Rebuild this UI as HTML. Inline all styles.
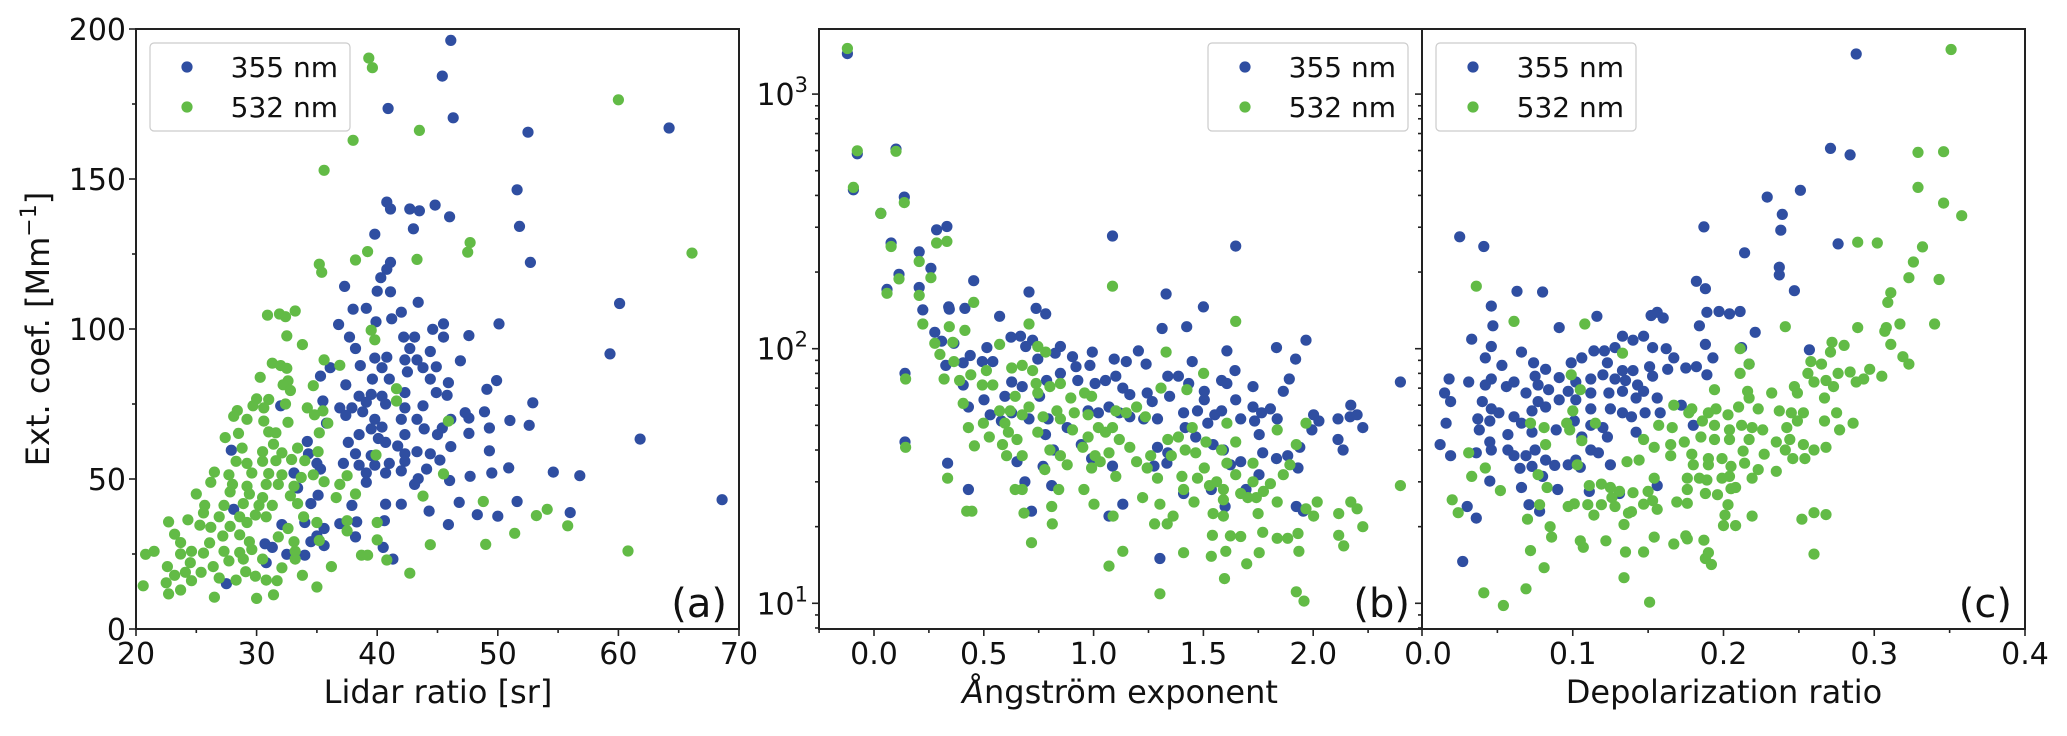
<!DOCTYPE html>
<html><head><meta charset="utf-8"><style>
html,body{margin:0;padding:0;background:#fff;}
svg{display:block;font-family:"DejaVu Sans","Liberation Sans",sans-serif;}
</style></head><body>
<svg id="chart" width="2067" height="736" viewBox="0 0 2067 736" xmlns="http://www.w3.org/2000/svg">
<defs>
<clipPath id="clipA"><rect x="136" y="29" width="603" height="600"/></clipPath>
<clipPath id="clipB"><rect x="819" y="29" width="603" height="600"/></clipPath>
<clipPath id="clipC"><rect x="1422" y="29" width="603" height="600"/></clipPath>
</defs>
<g id="axes"></g>
<g id="marksA" clip-path="url(#clipA)"></g>
<g id="marksB" clip-path="url(#clipB)"></g>
<g id="marksC" clip-path="url(#clipC)"></g>
<g id="frames"></g>
<g id="labels"></g>
</svg>
<script>
// ---- Tick labels ----
const aXTicks = [20, 30, 40, 50, 60, 70];
const aYTicks = [0, 50, 100, 150, 200];
const bXTicks = ["0.0", "0.5", "1.0", "1.5", "2.0"];
const cXTicks = ["0.0", "0.1", "0.2", "0.3", "0.4"];
const logTicks = [1, 2, 3];
const seriesNames = ["355 nm", "532 nm"];

// ---- Panel (a): Lidar ratio vs Ext. coef ----
const aBlue = [[46.1,196.2],[45.4,184.3],[40.9,173.5],[46.3,170.4],[52.5,165.6],[64.2,167],[51.6,146.4],[51.8,134.2],[52.7,122.2],[40.8,142.3],[41.1,140],[42.7,140],[43.5,139.4],[44.8,141.3],[46.0,137.4],[43.0,133.4],[39.8,131.6],[41.1,122.2],[40.8,119.9],[40.3,117.1],[37.3,114.2],[40.0,112.6],[41.1,112.4],[43.4,108.9],[60.1,108.5],[38.0,106.6],[39.1,106.9],[42.0,105.6],[41.2,103.4],[36.8,101.5],[39.9,102.4],[45.5,101.7],[50.1,101.7],[37.7,97.3],[42.2,97.3],[43.1,97.3],[44.6,99.9],[45.5,97.3],[47.6,97.8],[38.2,93.5],[42.7,93.5],[44.4,92.5],[59.3,91.7],[39.8,90.3],[40.8,90.6],[42.3,89.7],[43.3,89.7],[46.9,89.4],[36.1,87.1],[38.6,87.8],[40.4,87.1],[42.5,85.7],[43.8,87.1],[44.9,87.4],[35.3,84.3],[39.6,83.3],[41.0,83.3],[44.4,83.3],[45.9,82.1],[49.9,82.8],[37.4,81.4],[49.1,79.9],[38.5,77.6],[39.5,78.2],[40.4,77.6],[42.3,78.8],[44.9,78.8],[45.8,77.9],[35.5,76.0],[36.9,73.7],[37.9,73.7],[39.1,75.6],[40.7,75.0],[42.3,73.7],[43.8,74.4],[52.9,75.4],[32.0,74.4],[37.4,71.2],[38.8,72.4],[39.8,69.9],[42.0,69.9],[43.3,69.9],[46.1,69.9],[47.3,72.1],[48.9,72.4],[51.0,69.5],[52.6,67.9],[35.8,68.6],[39.5,66.7],[40.4,67.3],[43.9,66.7],[45.4,67],[47.6,70.3],[49.3,67],[38.5,64.8],[40.1,63.5],[42.3,64.8],[45.0,64.8],[47.6,65.2],[61.8,63.3],[37.6,62.2],[40.7,62.2],[41.7,61.0],[46.1,60.8],[34.2,62.5],[27.9,59.6],[49.3,59.4],[38.2,58.4],[39.5,57.8],[42.3,58.4],[43.3,59.1],[44.4,58.4],[34.3,58.4],[37.2,55.2],[38.5,54.6],[39.8,54.6],[41.0,55.2],[42.3,55.9],[45.2,56.3],[35.0,55.2],[50.9,53.7],[39.1,52.0],[40.7,52.0],[42.0,52.7],[44.1,53.3],[35.3,53.3],[33.1,52.0],[54.6,52.3],[56.8,51.1],[49.5,52.0],[47.7,50.9],[39.1,48.9],[43.4,50.1],[46.0,49.5],[43.1,48.2],[33.4,47.0],[35.1,44.6],[34.5,41.8],[68.6,43.1],[37.9,41.2],[40.7,41.6],[42.0,41.6],[46.8,42.2],[51.6,42.5],[28.1,39.9],[44.3,39.3],[48.3,38.1],[50.0,37.6],[56.0,38.8],[32.1,34.8],[34.0,35.5],[36.9,35.1],[38.3,35.7],[40.6,36.1],[45.9,34.8],[35.6,33.5],[35.0,31.0],[38.2,30.7],[30.7,28.4],[31.3,27.2],[34.5,29.1],[35.6,27.8],[40.5,27.2],[32.5,24.9],[34.0,24.6],[41.3,23.3],[30.8,22.1],[27.5,15.1]];
const aGreen = [[39.3,190.3],[39.6,187.1],[60.0,176.4],[43.5,166.2],[38.0,162.9],[35.6,152.9],[47.7,128.8],[47.5,125.6],[66.1,125.3],[39.2,125.8],[38.2,123.0],[43.3,123.2],[35.2,121.6],[35.4,118.9],[30.9,104.6],[31.9,105.0],[32.4,104.1],[33.2,106.0],[32.5,97.7],[33.8,94.8],[39.5,99.6],[39.8,96.4],[35.6,89.7],[36.9,87.9],[31.3,88.6],[32.0,87.8],[32.5,86.9],[30.3,83.9],[32.6,82.7],[32.2,81.4],[34.7,81.1],[41.6,80.1],[41.6,76.0],[32.8,79.5],[30.0,76.7],[31.0,76.5],[29.7,74.4],[30.6,73.7],[32.4,75.0],[34.2,73.7],[35.5,72.7],[28.4,72.8],[28.1,70.9],[34.8,71.4],[29.2,69.9],[30.6,69.3],[32.6,68.9],[35.9,68.6],[45.9,69.3],[31.0,65.7],[31.6,65.4],[28.5,65.2],[35.2,65.4],[27.4,63.8],[31.4,61.6],[28.8,60.3],[30.5,59.1],[32.1,58.7],[33.4,60.3],[35.1,59.1],[39.9,58.0],[28.3,55.9],[29.2,55.2],[30.5,55.9],[31.6,56.1],[32.9,56.5],[34.0,56.1],[26.5,52.3],[27.7,51.4],[29.6,52.0],[31.0,51.8],[32.1,51.4],[33.7,50.5],[34.7,51.4],[37.5,51.1],[45.5,51.7],[26.2,48.9],[28.0,48.2],[29.2,47.6],[30.8,48.2],[31.8,48.2],[33.1,47.6],[35.6,49.1],[36.9,48.2],[25.0,45.0],[27.8,45.7],[29.4,45.0],[30.5,43.8],[32.8,44.4],[36.6,43.8],[38.2,45.0],[43.8,44.3],[25.7,41.2],[27.3,41.2],[28.9,41.8],[30.2,41.2],[31.3,41.2],[33.4,41.8],[48.8,42.5],[25.6,38.7],[26.9,37.4],[28.6,37.4],[29.9,38.0],[30.8,37.4],[33.9,37.4],[54.1,39.9],[53.2,37.8],[22.7,35.7],[24.3,36.4],[25.3,34.6],[26.2,33.9],[27.8,34.2],[29.2,35.5],[32.6,33.5],[35.0,35.5],[37.5,36.1],[40.0,35.5],[55.8,34.4],[23.2,31.6],[27.2,31.0],[28.6,31.4],[31.8,30.7],[37.5,32.7],[51.4,31.9],[23.7,28.8],[26.1,28.7],[29.4,29.1],[33.1,29.1],[35.2,29.5],[40.0,29.7],[44.4,28.1],[49.0,28.2],[20.8,24.9],[21.5,25.9],[23.7,25.0],[24.6,25.9],[25.6,25.3],[27.3,25.9],[28.6,25.5],[29.6,26.5],[33.2,25.9],[38.7,24.6],[39.2,24.6],[60.8,26.0],[24.5,22.1],[27.7,22.7],[28.9,23.3],[30.5,23.3],[33.2,23.3],[40.8,23.0],[22.6,20.8],[24.1,18.9],[25.4,18.9],[26.4,20.8],[29.1,19.1],[32.1,20.4],[36.2,20.8],[42.7,18.6],[23.2,17.9],[24.6,16.1],[26.9,17.0],[28.3,16.3],[30.8,16.3],[31.7,16.1],[33.8,17.9],[20.6,14.4],[22.5,15.4],[29.9,17.6],[23.7,13.0],[22.7,11.7],[26.5,10.6],[30.0,10.2],[31.4,11.4],[35.0,14.0]];

// ---- Panel (b): Angstrom exponent vs Ext. coef (log) ----
const bBlue = [[-0.121,1442],[-0.094,421],[-0.076,583],[0.031,340],[0.100,608],[0.138,394],[0.285,293],[0.332,302],[0.078,260],[0.206,240],[0.259,207],[0.114,196],[0.059,171],[0.206,174],[0.454,185],[0.706,167],[1.086,277],[1.647,253],[1.330,164],[1.500,146],[0.222,142],[0.340,146],[0.414,144],[0.343,143],[0.277,116],[0.738,144],[0.782,137],[0.572,134],[1.312,120],[1.424,122],[0.308,107],[0.364,105],[0.438,94],[0.327,86],[0.406,88],[0.493,89],[0.541,89],[0.514,101],[0.624,111],[0.667,112],[0.722,108],[0.691,102],[0.849,102],[0.746,91],[0.825,96],[0.904,93],[0.994,97],[0.920,85],[0.983,86],[1.094,91],[1.149,89],[1.204,98],[1.239,87],[1.449,89],[1.607,98],[1.644,82],[1.833,101],[1.967,108],[1.920,91],[0.141,80],[0.406,72],[0.501,63],[0.430,59],[0.596,65],[0.627,74],[0.675,71],[0.754,65],[0.786,75],[0.849,80],[0.928,75],[1.007,73],[1.054,75],[1.101,78],[1.133,70],[1.165,66],[1.244,67],[1.267,62],[1.338,78],[1.386,78],[1.346,65],[1.433,73],[1.504,68],[1.583,75],[1.607,73],[1.726,71],[1.891,76],[1.864,68],[2.397,74],[1.504,63],[1.647,63],[1.410,56],[1.473,57],[1.520,51],[1.552,55],[1.583,57],[1.670,53],[1.733,52],[1.726,59],[1.765,56],[1.805,58],[1.836,53],[2.002,55],[2.026,52],[1.994,48],[2.113,53],[2.171,60],[2.168,54],[2.200,55],[2.226,49],[1.754,46],[2.113,44],[2.136,40],[0.529,55],[0.580,52],[0.627,56],[0.706,53],[0.793,53],[0.880,49],[0.975,57],[1.022,56],[1.070,59],[1.117,56],[1.165,54],[1.228,53],[1.291,53],[1.417,49],[1.465,45],[1.544,42],[1.591,40],[1.623,35],[1.670,36],[1.770,39],[1.833,37],[1.884,38],[1.931,34],[1.939,41],[1.753,32],[1.694,28],[1.599,24],[1.410,27],[1.536,28],[1.291,41],[1.338,39],[1.334,35.5],[1.275,34.6],[1.086,34.6],[1.133,24.5],[1.070,22],[0.991,37],[0.944,42],[0.817,40],[0.781,46],[0.770,34.5],[0.809,29],[0.687,30],[0.651,36],[0.717,23],[0.335,35.5],[0.430,28],[0.141,43],[1.923,24],[1.955,23],[1.302,15]];
const bGreen = [[-0.121,1510],[-0.094,430],[-0.076,599],[0.031,340],[0.100,596],[0.138,375],[0.078,252],[0.285,260],[0.332,264],[0.206,220],[0.259,190],[0.114,188],[0.059,165],[0.206,162],[0.454,152],[0.222,125],[0.343,122],[0.414,118],[0.706,125],[1.086,176],[1.647,128],[1.330,97],[1.501,80],[0.277,105],[0.300,95],[0.359,106],[0.364,89],[0.319,76],[0.390,75],[0.441,79],[0.493,72],[0.541,72],[0.512,82],[0.572,104],[0.627,84],[0.675,86],[0.746,102],[0.782,97],[0.722,82],[0.738,73],[0.801,71],[0.849,73],[0.406,61],[0.430,49],[0.457,41.5],[0.498,51],[0.525,45],[0.572,57],[0.596,51],[0.620,57],[0.643,65],[0.675,55],[0.706,59],[0.746,67],[0.770,54],[0.833,57],[0.849,53],[0.896,64],[0.912,56],[0.959,67],[0.991,65],[0.975,55],[1.022,49],[1.054,47],[1.086,49],[1.101,57],[1.149,56],[1.196,59],[1.236,54],[1.307,70],[1.425,69],[0.585,42],[0.612,47],[0.651,44],[0.604,38],[0.675,38],[0.746,47],[0.801,40],[0.849,38],[0.880,35],[0.904,48],[0.951,41],[0.975,45],[1.007,38],[1.030,36],[1.070,39],[1.117,44],[1.165,41],[1.196,36],[1.244,34],[1.260,38],[1.338,44],[1.386,45],[1.354,38],[1.417,40],[1.449,49],[1.465,39],[1.512,43],[1.504,34],[1.583,40],[1.607,51],[1.647,43],[1.607,35.5],[1.726,35.5],[1.836,48],[1.967,51],[1.923,42],[1.894,35],[1.647,32],[1.864,32],[0.778,33.5],[0.991,34],[1.101,31.5],[1.291,31],[1.402,31.5],[1.410,28],[1.473,31],[1.528,29],[1.560,30],[1.591,28],[1.670,27],[1.726,30],[1.702,26],[1.741,26],[1.773,27.5],[1.805,29.5],[2.397,29],[0.335,31],[0.643,28],[0.675,28],[0.841,28],[0.956,28],[1.223,26],[1.457,25],[1.591,25.5],[1.836,25],[1.967,23.5],[2.018,25],[2.002,22],[2.116,22.5],[2.171,25],[2.200,23.5],[2.226,20],[1.749,22.5],[1.544,22.5],[1.591,22],[1.362,22],[1.302,24.5],[1.278,20.5],[1.335,20.5],[1.089,22],[1.002,24.5],[0.809,24],[0.812,20.5],[0.683,22.6],[0.422,23],[0.446,23],[0.717,17.3],[1.133,16],[1.070,14],[1.410,15.8],[1.536,15.3],[1.602,16],[1.623,18.4],[1.541,18.5],[1.670,18.3],[1.697,14.3],[1.754,15.8],[1.770,19],[1.836,18],[1.884,18],[1.931,18.8],[1.935,16],[2.116,18.5],[2.139,16.8],[1.302,10.9],[1.596,12.5],[1.923,11.1],[1.958,10.2],[0.144,76],[0.144,41]];

// ---- Panel (c): Depolarization ratio vs Ext. coef (log) ----
const cBlue = [[0.288,1437],[0.271,612],[0.284,577],[0.251,419],[0.229,394],[0.239,337],[0.238,292],[0.187,301],[0.276,258],[0.214,238],[0.237,209],[0.237,195],[0.247,169],[0.182,184],[0.188,172],[0.025,275],[0.041,252],[0.063,168],[0.080,167],[0.046,147],[0.047,123],[0.033,109],[0.046,102],[0.042,92],[0.053,86],[0.066,97],[0.074,88],[0.091,121],[0.116,134],[0.156,139],[0.152,135],[0.160,132],[0.189,139],[0.197,140],[0.204,137],[0.211,140],[0.184,123],[0.221,116],[0.188,104],[0.212,101],[0.193,92],[0.257,99],[0.147,112],[0.133,112],[0.140,108],[0.153,101],[0.162,100],[0.167,92],[0.114,98],[0.121,98],[0.128,101],[0.106,92],[0.099,88],[0.123,88],[0.133,82],[0.140,82],[0.151,85],[0.153,78],[0.163,83],[0.175,84],[0.182,85],[0.189,79],[0.217,87],[0.082,83],[0.091,77],[0.075,78],[0.077,72],[0.112,76],[0.120,79],[0.128,76],[0.135,75],[0.143,72],[0.102,74],[0.097,68],[0.084,69],[0.046,76],[0.042,72],[0.031,74],[0.018,76],[0.015,67],[0.019,62],[0.056,71],[0.061,74],[0.069,67],[0.112,67],[0.124,67],[0.133,68],[0.142,64],[0.147,68],[0.156,64],[0.040,62],[0.077,62],[0.091,63],[0.102,63],[0.046,58],[0.051,56],[0.061,54],[0.073,57],[0.082,59],[0.112,58],[0.125,58],[0.133,56],[0.139,54],[0.148,56],[0.158,56],[0.172,60],[0.037,53],[0.045,52],[0.066,51],[0.101,52],[0.016,51],[0.038,48],[0.057,46],[0.073,47],[0.089,48],[0.112,50],[0.120,49],[0.142,47],[0.180,50],[0.123,45],[0.045,43],[0.106,45],[0.012,42],[0.057,40],[0.046,40],[0.075,40],[0.112,40],[0.117,39],[0.019,38],[0.036,39],[0.061,38],[0.069,38],[0.082,36.5],[0.088,34.8],[0.102,36.5],[0.097,35],[0.105,34.2],[0.125,35],[0.065,33.9],[0.073,34.5],[0.080,31.5],[0.045,30.2],[0.066,28.5],[0.090,28],[0.156,29],[0.111,27.5],[0.131,27],[0.071,24.4],[0.078,23],[0.030,24],[0.036,21.6],[0.027,14.6]];
const cGreen = [[0.351,1497],[0.329,590],[0.346,594],[0.329,430],[0.346,373],[0.358,333],[0.289,262],[0.302,260],[0.332,251],[0.326,219],[0.323,190],[0.343,187],[0.311,166],[0.309,152],[0.289,121],[0.308,121],[0.317,125],[0.340,125],[0.307,117],[0.311,104],[0.319,93],[0.323,87],[0.272,106],[0.280,103],[0.271,97],[0.258,89],[0.265,87],[0.256,80],[0.276,80],[0.284,81],[0.297,83],[0.305,78],[0.288,74],[0.293,76],[0.241,122],[0.211,100],[0.211,80],[0.217,87],[0.036,176],[0.061,128],[0.108,125],[0.133,96],[0.099,79],[0.105,69],[0.100,57],[0.194,69],[0.216,68],[0.232,67],[0.247,71],[0.260,74],[0.268,75],[0.273,71],[0.249,67],[0.267,64],[0.217,64],[0.223,58],[0.237,57],[0.245,56],[0.253,56],[0.275,56],[0.167,60],[0.177,56],[0.179,58],[0.190,56],[0.195,58],[0.203,55],[0.210,59],[0.249,52],[0.267,52],[0.286,51],[0.072,51],[0.081,49],[0.096,51],[0.098,48],[0.115,51],[0.157,50],[0.166,49],[0.186,52],[0.194,50],[0.204,48],[0.212,50],[0.219,49],[0.226,48],[0.242,49],[0.277,48],[0.106,43.5],[0.147,44],[0.165,42],[0.154,41],[0.174,43],[0.185,45],[0.194,44],[0.204,44],[0.217,44],[0.235,43],[0.244,44],[0.253,42],[0.260,40],[0.268,41],[0.082,42],[0.031,39],[0.165,38],[0.179,38.5],[0.190,37],[0.199,37],[0.213,39.6],[0.227,38.5],[0.241,40],[0.246,37],[0.254,37],[0.136,36],[0.144,36.5],[0.180,35],[0.190,35],[0.205,34.5],[0.214,35.5],[0.223,33.5],[0.042,34],[0.103,35],[0.077,32],[0.033,31.5],[0.154,31],[0.176,31],[0.184,31],[0.189,30.5],[0.199,31],[0.204,31.5],[0.219,31],[0.235,33],[0.083,28.5],[0.052,27.7],[0.111,29],[0.119,29.4],[0.125,28.5],[0.131,27.5],[0.140,27.2],[0.150,27.5],[0.176,28],[0.188,27],[0.196,26.7],[0.205,28.2],[0.208,28.5],[0.020,25.5],[0.126,26],[0.153,25.3],[0.169,25],[0.176,24.7],[0.078,24.4],[0.097,24],[0.101,24.6],[0.110,24.4],[0.128,24],[0.147,24.5],[0.156,23.4],[0.119,24.4],[0.203,24.4],[0.024,22.7],[0.070,21.4],[0.114,22.2],[0.137,22.6],[0.139,22.9],[0.201,22.2],[0.219,22],[0.252,21.4],[0.260,22.7],[0.268,22.3],[0.134,20.4],[0.200,20.2],[0.208,20.2],[0.085,20],[0.086,18.2],[0.154,18.2],[0.175,18.4],[0.176,17.9],[0.187,17.7],[0.105,17.6],[0.107,16.6],[0.122,17.6],[0.167,17.1],[0.072,16.1],[0.135,15.9],[0.147,15.9],[0.190,15.8],[0.188,15],[0.192,14.2],[0.260,15.6],[0.081,13.8],[0.134,12.6],[0.069,11.4],[0.041,11],[0.054,9.8],[0.151,10.1]];

const NS = "http://www.w3.org/2000/svg";
const BLUE = "#2f4ea1", GREEN = "#62bb46", R = 5.6;
const TOP = 29, BOT = 629;
function xA(v){ return 136 + (v - 20) * 12.06; }
function yA(v){ return BOT - v * 3; }
function xB(v){ return 874 + v * 219.6; }
function xC(v){ return 1422 + v * 1507.5; }
function yL(v){ return 348.7 - (Math.log10(v) - 2) * 254.6; }

function mk(tag, attrs, parent){
  const e = document.createElementNS(NS, tag);
  for (const k in attrs) e.setAttribute(k, attrs[k]);
  parent.appendChild(e);
  return e;
}
function pts(data, fx, fy, color, parent, nm){
  data.forEach(function(d){
    const c = mk("circle", {cx: fx(d[0]).toFixed(1), cy: fy(d[1]).toFixed(1), r: R, fill: color}, parent);
    
    
  });
}
const gA = document.getElementById("marksA"), gB = document.getElementById("marksB"), gC = document.getElementById("marksC");
pts(aBlue, xA, yA, BLUE, gA, 'point-a-355nm');
pts(aGreen, xA, yA, GREEN, gA, 'point-a-532nm');
pts(bBlue, xB, yL, BLUE, gB, 'point-b-355nm');
pts(bGreen, xB, yL, GREEN, gB, 'point-b-532nm');
pts(cBlue, xC, yL, BLUE, gC, 'point-c-355nm');
pts(cGreen, xC, yL, GREEN, gC, 'point-c-532nm');

const fr = document.getElementById("frames"), lb = document.getElementById("labels");
const frameStyle = {fill: "none", stroke: "#222", "stroke-width": 2};
[[136,'frame-a'],[819,'frame-b'],[1422,'frame-c']].forEach(function(f){
  const r = mk("rect", Object.assign({x: f[0], y: TOP, width: 603, height: 600}, frameStyle), fr);
  
  
});
function line(x1,y1,x2,y2){ mk("line",{x1:x1,y1:y1,x2:x2,y2:y2,stroke:"#222","stroke-width":1.6},fr); }
function txt(x,y,s,anchor,size,nm,parent){
  const t = mk("text",{x:x,y:y,"text-anchor":anchor,"font-size":size,fill:"#111"},parent||lb);
  t.textContent = s;
  
  
  return t;
}
// Panel a ticks
aXTicks.forEach(function(v){ line(xA(v),BOT,xA(v),BOT+7); txt(xA(v),664,String(v),"middle",30,'x-tick-label-a'); });
[25,35,45,55,65].forEach(function(v){ line(xA(v),BOT,xA(v),BOT+4); });
aYTicks.forEach(function(v){ line(129,yA(v),136,yA(v)); txt(126,yA(v)+11,String(v),"end",30,'y-tick-label-a'); });
[25,75,125,175].forEach(function(v){ line(132,yA(v),136,yA(v)); });
// Panel b ticks
bXTicks.forEach(function(s){ const v=parseFloat(s); line(xB(v),BOT,xB(v),BOT+7); txt(xB(v),664,s,"middle",30,'x-tick-label-b'); });
[-0.25,0.25,0.75,1.25,1.75,2.25].forEach(function(v){ line(xB(v),BOT,xB(v),BOT+4); });
logTicks.forEach(function(p){
  const y = yL(Math.pow(10,p));
  line(812,y,819,y); line(1415,y,1422,y);
  const t = txt(808,y+11,"10","end",30,'y-tick-label-log');
  const s = document.createElementNS(NS,"tspan");
  s.setAttribute("dy","-13"); s.setAttribute("font-size","21"); s.textContent = String(p);
  t.appendChild(s);
});
for (let p=0;p<=3;p++){ for (let m=2;m<=9;m++){ const v=m*Math.pow(10,p); const y=yL(v); if(y>TOP&&y<BOT){ line(815,y,819,y); line(1418,y,1422,y);} } }
// Panel c ticks
cXTicks.forEach(function(s){ const v=parseFloat(s); line(xC(v),BOT,xC(v),BOT+7); txt(xC(v)+(v===0?6:0),664,s,"middle",30,'x-tick-label-c'); });
[0.05,0.15,0.25,0.35].forEach(function(v){ line(xC(v),BOT,xC(v),BOT+4); });

// Axis titles
txt(438,703,"Lidar ratio [sr]","middle",32,'x-axis-title-a');
const tb = txt(1120,703,"","middle",32,'x-axis-title-b');
const it = document.createElementNS(NS,"tspan"); it.setAttribute("font-style","italic"); it.textContent="Å"; tb.appendChild(it);
const rest = document.createElementNS(NS,"tspan"); rest.textContent="ngström exponent"; tb.appendChild(rest);
txt(1724,703,"Depolarization ratio","middle",32,'x-axis-title-c');
const yt = txt(0,0,"Ext. coef. [Mm","middle",32,'y-axis-title');
yt.setAttribute("transform","translate(49,329) rotate(-90)");
const sup = document.createElementNS(NS,"tspan"); sup.setAttribute("dy","-13"); sup.setAttribute("font-size","22"); sup.textContent="−1"; yt.appendChild(sup);
const cl = document.createElementNS(NS,"tspan"); cl.setAttribute("dy","13"); cl.textContent="]"; yt.appendChild(cl);

// Panel letters
txt(727,617,"(a)","end",40,'panel-label-a');
txt(1410,617,"(b)","end",40,'panel-label-b');
txt(2012,617,"(c)","end",40,'panel-label-c');

// Legends
function legend(x, nm){
  const g = mk("g",{},lb);
  
  
  mk("rect",{x:x,y:43,width:200,height:88,rx:4,fill:"#fff","fill-opacity":0.85,stroke:"#ccc","stroke-width":1.2},g);
  [BLUE,GREEN].forEach(function(col,i){
    const y = 67 + i*40;
    const m = mk("circle",{cx:x+37,cy:y,r:R,fill:col},g);
    
    
    txt(x+188,y+10,seriesNames[i],"end",28,'legend-entry',g);
  });
}
legend(150,'legend-a');
legend(1208,'legend-b');
legend(1436,'legend-c');
</script>
</body></html>
